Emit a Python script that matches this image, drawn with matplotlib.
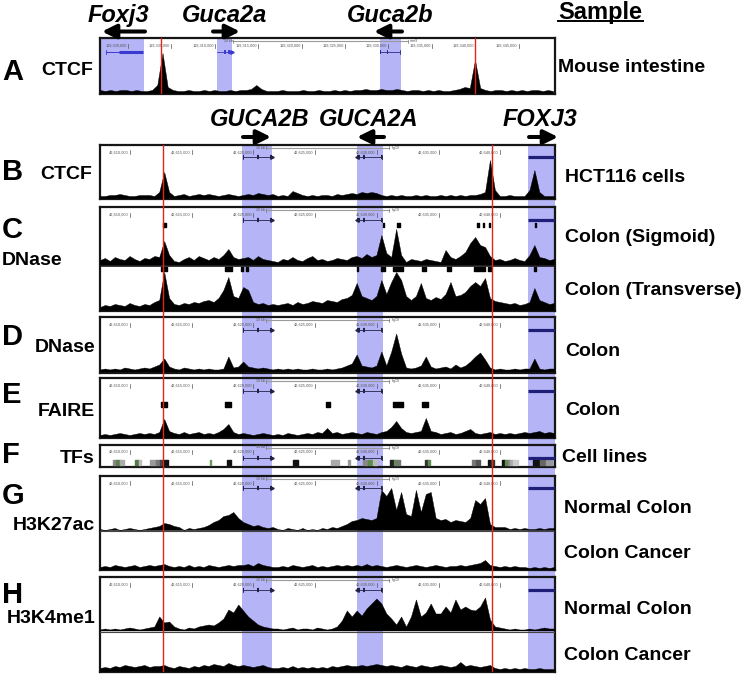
import numpy as np
import matplotlib
matplotlib.use('Agg')
import matplotlib.pyplot as plt
from matplotlib import transforms

plt.rcParams['font.family'] = ['Liberation Sans', 'DejaVu Sans']

W, H = 747, 674

# ---------------- genomic windows ----------------
HUMAN_START, HUMAN_END, HUMAN_BIN = 42607570, 42644440, 400
MOUSE_START, MOUSE_END, MOUSE_BIN = 119296774, 119349190, 600

human_ticks = [42610000, 42615000, 42620000, 42625000, 42630000, 42635000, 42640000]
mouse_ticks = [119300000, 119305000, 119310000, 119315000, 119320000,
               119325000, 119330000, 119335000, 119340000, 119345000]

human_genes = ['GUCA2B', 'GUCA2A', 'FOXJ3']
human_hl_start = [42619053, 42628421, 42642230]
human_hl_end = [42621484, 42630480, 42644440]
human_arrow_from = [42619159, 42630585, 42642336]
human_arrow_to = [42621428, 42628397, 42644686]
human_red = [42612676, 42639362]

mouse_genes = ['Foxj3', 'Guca2a', 'Guca2b']
mouse_hl_start = [119296774, 119310218, 119329030]
mouse_hl_end = [119301877, 119312015, 119331449]
mouse_arrow_from = [119301958, 119309792, 119331564]
mouse_arrow_to = [119297004, 119312902, 119328339]
mouse_red = [119303801, 119339980]

# ---------------- signal tracks (relative signal per bin) ----------------
mouse_ctcf = [3, 2, 3, 2, 3, 3, 2, 3, 2, 2,
              3, 8, 40, 6, 3,
              2, 2, 3, 2, 2, 3, 2, 3, 2, 2, 3, 2, 3, 3, 4,
              8, 4, 2,
              2, 2, 3, 2, 2, 2, 3, 2, 2, 3, 2, 2, 3, 2, 3, 2, 3,
              3, 4, 3, 3, 4, 3, 3, 4, 3, 2, 3, 3, 2, 3, 2, 3, 2, 2, 3, 4, 6,
              5, 33, 5,
              3, 2, 3, 3, 2, 3, 2, 3, 2, 3, 3, 2, 3, 2]

hct116_ctcf = [2, 2, 3, 3, 4, 3, 2, 2, 3, 3,
               3, 2, 6, 26, 6, 2,
               3, 4, 2, 3, 4, 3, 4, 3, 2, 3, 4, 3, 2,
               3, 4, 3, 5, 4, 3, 4,
               2, 3, 2, 7,
               5, 3, 2, 3, 2, 3, 3, 2, 4, 3, 4, 5,
               4, 6, 5, 6, 5, 3,
               2, 3, 2, 3, 2, 2, 3, 2, 3, 2, 2, 3, 2, 3, 2, 3, 2, 3, 3, 4, 6,
               38, 8, 2, 2, 3, 2, 2, 2,
               8, 28, 6, 2, 2, 2]

dnase_sigmoid = [5, 7, 4, 8, 6, 5, 9, 6, 4, 7,
                 6, 9, 8, 24, 10, 4,
                 3, 6, 8, 5, 9, 7, 5, 8, 6, 10,
                 16, 8, 6,
                 7, 8, 5, 9, 6, 5, 4,
                 3, 6, 5, 8, 5, 4, 7, 9, 5, 6, 4, 5, 7, 6, 5, 8,
                 9, 7, 11, 8, 10, 30,
                 12, 8, 36, 10,
                 3, 6, 5, 4, 6, 5, 4, 3,
                 15, 8, 6, 9, 13, 22, 28, 20, 18, 9,
                 5, 6, 4, 5, 7, 5, 4,
                 10, 20, 8, 7, 5, 6]

dnase_transverse = [3, 5, 4, 6, 5, 4, 7, 5, 4, 6,
                    5, 8, 10, 38, 12, 6,
                    5, 7, 6, 8, 7, 9, 10, 8, 12,
                    20, 33, 14, 12, 23, 20, 8,
                    6, 7, 5, 6,
                    5, 6, 7, 5, 8, 6, 7, 9, 8, 7, 10, 9, 8, 11, 12,
                    15, 27, 14, 12, 10, 14, 30, 16, 28, 38, 30, 14,
                    10, 14, 27, 12, 10, 13, 11, 16, 28, 14, 15, 18, 24, 28, 24, 32, 12,
                    9, 8, 7, 6, 7, 5, 6,
                    8, 22, 10, 8, 6, 7]

dnase_colon = [2, 3, 2, 3, 2, 4, 3, 2, 3, 4,
               3, 5, 7, 13, 5,
               3, 2, 4, 3, 2, 3, 2, 3, 2, 2, 3,
               15, 4, 5, 10, 5,
               4, 3, 4, 3, 2,
               3, 2, 3, 2, 3, 2, 2, 3, 2, 2, 3, 2, 3, 4, 6,
               8, 17, 6, 5, 4, 6, 20, 6, 20, 38, 18, 4,
               3, 4, 6, 15, 5, 3, 4, 5, 3, 7, 4, 6, 10, 15, 19, 12, 4,
               2, 3, 2, 2, 3, 2, 3, 3,
               13, 3, 2, 3, 3]

faire_colon = [2, 3, 2, 3, 4, 3, 2, 3, 4, 3,
               4, 3, 5, 18, 6,
               4, 3, 5, 3, 4, 5, 3, 4, 3, 5, 8,
               13, 5,
               3, 4, 3, 2, 3, 4, 3, 2,
               3, 2, 4, 3, 2, 3, 4, 3, 5, 4, 9, 4, 5, 3, 4, 5,
               4, 3, 5, 4, 3, 5,
               6, 10, 16, 9, 5, 4, 5, 6, 19, 6,
               5, 3, 4, 5, 3, 4, 6, 8, 4, 3, 4, 5,
               3, 4, 3, 4, 3, 4, 5, 4, 5, 6, 4, 5, 4]

h3k27ac_normal = [1, 0, 1, 2, 0, 1, 2, 1, 0, 1, 2, 3, 4,
                  7, 6, 4, 3, 0, 2, 1, 2, 3, 5, 8, 10, 14, 15, 18, 12, 8, 6, 4, 5, 3, 2, 3,
                  1, 0, 2, 1, 0, 2, 0, 1, 0, 2, 1, 3, 2, 4,
                  6, 9, 10, 12, 11, 10, 12, 40, 34, 42, 20, 38, 16, 14, 40, 18, 36, 38, 12, 10,
                  11, 8, 10, 9, 8, 12, 30, 26, 32, 6,
                  3, 3, 3, 1, 2, 1, 2, 1, 1, 2, 1, 2, 2]

h3k27ac_cancer = [2, 3, 2, 4, 3, 2, 3, 4, 2, 3, 4, 3, 4,
                  5, 3, 2, 3, 2, 4, 2, 3, 2, 4, 3, 2, 3, 4, 3, 4,
                  4, 5, 3, 6, 4, 3, 2,
                  2, 3, 2, 4, 3, 2, 3, 4, 2, 3, 2, 3, 4, 3, 4, 3,
                  4, 3, 5, 3, 4, 3, 2, 3, 4, 3, 2, 3, 4, 3, 2, 3, 4, 3, 2, 3,
                  3, 4, 3, 4, 5, 6, 9, 4,
                  3, 2, 3, 2, 3, 2, 2, 1, 2, 1, 2, 1, 2]

h3k4me1_normal = [1, 2, 1, 2, 1, 2, 3, 2, 1, 2, 3, 4,
                  14, 8, 9, 4, 2, 1, 3, 2, 4, 5, 6, 5, 8, 12, 21, 18, 26, 20, 14, 10, 6, 4, 3, 2,
                  2, 1, 2, 3, 1, 2, 2, 1, 3, 2, 1, 2,
                  4, 10, 20, 14, 20, 15, 22, 27, 32, 27, 17, 12, 6, 14, 4, 14, 31, 14, 18, 27,
                  17, 17, 24, 18, 31, 21, 24, 21, 20, 24, 33, 11,
                  4, 3, 2, 1, 2, 1, 1, 2, 1, 2, 3, 2, 2]

h3k4me1_cancer = [3, 4, 3, 5, 4, 6, 5, 4, 5, 6, 4, 5, 5,
                  6, 4, 3, 5, 4, 3, 5, 4, 6, 5, 7, 6, 5, 8, 6, 5,
                  6, 5, 4, 5, 6, 4, 3,
                  3, 4, 3, 5, 3, 4, 3, 4, 3, 4, 3, 5, 4, 5, 6, 5,
                  5, 6, 5, 6, 7, 6, 5, 6, 5, 4, 6, 5, 4, 6, 5, 4, 5, 6, 5, 4,
                  5, 9, 5, 6, 5, 4, 5, 6,
                  3, 2, 3, 2, 3, 2, 3, 2, 2, 3, 2, 2, 2]

# ---------------- peak calls / TF clusters ----------------
sigmoid_calls = [(42612635, 42612919), (42630500, 42630580), (42631639, 42631882),
                 (42638081, 42638284), (42638608, 42638689), (42639094, 42639176),
                 (42642822, 42642903)]
transverse_calls = [(42612489, 42613024), (42617700, 42618243), (42619030, 42619118),
                    (42619440, 42619523), (42628373, 42628437), (42630342, 42630666),
                    (42631291, 42632150), (42633690, 42633990), (42635715, 42635991),
                    (42637879, 42638770), (42639038, 42639232), (42642741, 42642903)]
faire_calls = [(42612513, 42612975), (42617676, 42618186), (42625885, 42626209),
               (42631339, 42632101), (42633641, 42634176)]

tf_start = [42608624, 42608867, 42609191, 42610406, 42610731, 42611622, 42612108, 42612432,
            42612676, 42616484, 42617862, 42623211, 42626290, 42627668, 42628884, 42629289,
            42629694, 42631072, 42631396, 42631639, 42633908, 42634151, 42637717, 42638041,
            42639013, 42639256, 42640148, 42640391, 42640634, 42640796, 42641040, 42642661,
            42643228, 42643714]
tf_end = [42608867, 42609191, 42609515, 42610731, 42610893, 42612108, 42612432, 42612676,
          42613081, 42616565, 42618186, 42623616, 42626939, 42627830, 42629208, 42629613,
          42630019, 42631396, 42631639, 42631882, 42634151, 42634313, 42638041, 42638365,
          42639256, 42639499, 42640391, 42640634, 42640796, 42641040, 42641445, 42643147,
          42643633, 42644200]
tf_shade = ['#8a8a8a', '#5f7f50', '#ababab', '#557a45', '#bdbdbd', '#9a9a9a', '#777777', '#444444',
            '#111111', '#6a9a5a', '#111111', '#111111', '#aaaaaa', '#999999', '#888888', '#5f8a50',
            '#bbbbbb', '#222222', '#5f8a50', '#777777', '#333333', '#5f8a50', '#777777', '#555555',
            '#111111', '#333333', '#111111', '#5f8a50', '#888888', '#aaaaaa', '#cccccc', '#111111',
            '#666666', '#999999']

# gene models (exon blocks)
guca2b_span = (42619159, 42621509)
guca2b_exons = [(42619130, 42619200), (42620300, 42620430), (42621330, 42621509)]
guca2a_span = (42628397, 42630423)
guca2a_exons = [(42628397, 42628600), (42628884, 42629010), (42630380, 42630440)]
foxj3_span = (42642230, 42644440)

m_foxj3_thin = (119297465, 119298963)
m_foxj3_thick = (119298963, 119301728)
m_guca2a_span = (119310252, 119312015)
m_guca2a_exons = [(119311050, 119311290), (119311520, 119311750)]
m_guca2b_span = (119329030, 119331334)
m_guca2b_exons = [(119329030, 119329150), (119329800, 119330000)]

# ---------------- colours ----------------
HL = '#b4b4f6'
RED = '#e3241c'
NAVY = '#1f1f7a'
FRAME = '#161616'

fig = plt.figure(figsize=(W / 100, H / 100), dpi=100)


def add_px(x0, y0, x1, y1, z=1):
    ax = fig.add_axes([x0 / W, 1 - y1 / H, (x1 - x0) / W, (y1 - y0) / H])
    ax.set_zorder(z)
    return ax


def box(top, bottom, start, end, z=1):
    ax = add_px(100, top, 555, bottom, z)
    ax.set_xlim(start, end)
    ax.set_ylim(bottom, top)
    ax.set_facecolor('none')
    ax.set_xticks([])
    ax.set_yticks([])
    for s in ax.spines.values():
        s.set_linewidth(1.6)
        s.set_color(FRAME)
    return ax


def signal(ax, vals, base, start, step):
    x = start + np.arange(len(vals)) * step
    v = np.asarray(vals, dtype=float)
    ax.fill_between(x, base, base - v, color='black', lw=0.3, edgecolor='black', zorder=3)


def calls(ax, items, y0, h):
    ax.broken_barh([(s, max(e - s, 60)) for s, e in items], (y0, h), color='black', zorder=3)


def header(ax, top, ticks, scale_from, scale_to, scale_txt, asm, fs=2.8):
    for t in ticks:
        ax.text(t - 120, top + 7.5, f'{t:,}', ha='right', va='center', fontsize=fs, color='#555555')
        ax.plot([t, t], [top + 5.5, top + 9.5], color='#555555', lw=0.5)
    ax.plot([scale_from, scale_to], [top + 3, top + 3], color='#9a9a9a', lw=0.8)
    ax.plot([scale_from, scale_from], [top + 1.5, top + 4.5], color='#777777', lw=0.5)
    ax.plot([scale_to, scale_to], [top + 1.5, top + 4.5], color='#777777', lw=0.5)
    ax.text(scale_from - 100, top + 3, scale_txt, ha='right', va='center', fontsize=2.6, color='#555555')
    ax.text(scale_to + 200, top + 3, asm, ha='left', va='center', fontsize=2.6, color='#555555')


def human_genes_draw(ax, top):
    y = top + 12.5
    ax.plot(guca2b_span, [y, y], color='#222244', lw=0.6, zorder=4)
    for s, e in guca2b_exons:
        ax.plot([s, e], [y, y], color='#222244', lw=3, solid_capstyle='butt', zorder=4)
    ax.plot([guca2b_span[0]] * 2, [y - 2, y + 2], color='#222244', lw=0.6, zorder=4)
    ax.plot([guca2b_span[1]], [y], marker='>', ms=2.5, color='#222244', zorder=4)
    ax.plot(guca2a_span, [y, y], color='#222244', lw=0.6, zorder=4)
    for s, e in guca2a_exons:
        ax.plot([s, e], [y, y], color='#222244', lw=3, solid_capstyle='butt', zorder=4)
    ax.plot([guca2a_span[0]], [y], marker='<', ms=2.5, color='#222244', zorder=4)
    ax.plot([guca2a_span[1]] * 2, [y - 2, y + 2], color='#222244', lw=0.6, zorder=4)
    ax.plot(foxj3_span, [y, y], color=NAVY, lw=2.3, solid_capstyle='butt', zorder=4)


# ---------------- overlay in pixel coordinates ----------------
ov = fig.add_axes([0, 0, 1, 1])
ov.set_xlim(0, W)
ov.set_ylim(H, 0)
ov.axis('off')
ov.set_zorder(5)

# ---------------- panel A (mouse) ----------------
axA = box(38, 94, MOUSE_START, MOUSE_END)
for s, e in zip(mouse_hl_start, mouse_hl_end):
    axA.axvspan(s, e, color=HL, lw=0, zorder=0)
signal(axA, mouse_ctcf, 93, MOUSE_START, MOUSE_BIN)
header(axA, 38, mouse_ticks, 119312130, 119332290, '20 kb', 'mm9')
ym = 38 + 14
axA.plot(m_foxj3_thin, [ym, ym], color='#3a3ad0', lw=0.7, zorder=4)
axA.plot(m_foxj3_thick, [ym, ym], color='#3a3ad0', lw=2.2, solid_capstyle='butt', zorder=4)
axA.plot([m_foxj3_thin[0]] * 2, [ym - 2, ym + 2], color='#3a3ad0', lw=0.6, zorder=4)
axA.plot(m_guca2a_span, [ym, ym], color='#3a3ad0', lw=0.6, zorder=4)
for s, e in m_guca2a_exons:
    axA.plot([s, e], [ym, ym], color='#3a3ad0', lw=2.8, solid_capstyle='butt', zorder=4)
axA.plot([m_guca2a_span[1]], [ym], marker='>', ms=2.5, color='#3a3ad0', zorder=4)
axA.plot(m_guca2b_span, [ym, ym], color='#2a2a90', lw=0.6, zorder=4)
for s, e in m_guca2b_exons:
    axA.plot([s, e], [ym, ym], color='#2a2a90', lw=2.8, solid_capstyle='butt', zorder=4)
axA.plot([m_guca2b_span[1]] * 2, [ym - 2, ym + 2], color='#2a2a90', lw=0.6, zorder=4)
for r in mouse_red:
    axA.axvline(r, color=RED, lw=1.0, zorder=5)

# ---------------- human background (highlights) and red lines ----------------
bg = add_px(100, 145, 555, 672, 0)
bg.set_xlim(HUMAN_START, HUMAN_END)
bg.set_ylim(0, 1)
bg.axis('off')
for s, e in zip(human_hl_start, human_hl_end):
    bg.axvspan(s, e, color=HL, lw=0)

red_ax = add_px(100, 145, 555, 672, 3)
red_ax.set_xlim(HUMAN_START, HUMAN_END)
red_ax.set_ylim(0, 1)
red_ax.axis('off')
for r in human_red:
    red_ax.axvline(r, color=RED, lw=1.0)


def human_box(top, bottom):
    ax = box(top, bottom, HUMAN_START, HUMAN_END)
    header(ax, top, human_ticks, 42621000, 42631000, '10 kb', 'hg19')
    human_genes_draw(ax, top)
    return ax


# B
axB = human_box(145, 199)
signal(axB, hct116_ctcf, 198, HUMAN_START, HUMAN_BIN)
# C
axC = human_box(207, 311)
signal(axC, dnase_sigmoid, 265, HUMAN_START, HUMAN_BIN)
signal(axC, dnase_transverse, 310, HUMAN_START, HUMAN_BIN)
axC.axhline(266, color=FRAME, lw=1.2, zorder=4)
calls(axC, sigmoid_calls, 223, 4)
calls(axC, transverse_calls, 266.5, 4)
# D
axD = human_box(317, 373)
signal(axD, dnase_colon, 371.5, HUMAN_START, HUMAN_BIN)
# E
axE = human_box(378, 438)
signal(axE, faire_colon, 437, HUMAN_START, HUMAN_BIN)
calls(axE, faire_calls, 402, 4.5)
# F
axF = box(445, 467, HUMAN_START, HUMAN_END)
header(axF, 444.5, human_ticks, 42621000, 42631000, '10 kb', 'hg19')
human_genes_draw(axF, 445)
for s, e, c in zip(tf_start, tf_end, tf_shade):
    axF.broken_barh([(s, e - s)], (459.5, 5), color=c, zorder=3)
# G
axG = human_box(476, 570)
signal(axG, h3k27ac_normal, 530, HUMAN_START, HUMAN_BIN)
signal(axG, h3k27ac_cancer, 569, HUMAN_START, HUMAN_BIN)
axG.axhline(531, color='#444444', lw=0.8, zorder=4)
# H
axH = human_box(577, 672)
signal(axH, h3k4me1_normal, 630.5, HUMAN_START, HUMAN_BIN)
signal(axH, h3k4me1_cancer, 671, HUMAN_START, HUMAN_BIN)
axH.axhline(631.5, color='#444444', lw=0.8, zorder=4)

# ---------------- gene arrows ----------------
arrow_style = dict(arrowstyle='-|>,head_length=0.85,head_width=0.42', lw=2.9, color='black',
                   mutation_scale=10, shrinkA=0, shrinkB=0)
tr_m = transforms.blended_transform_factory(axA.transData, ov.transData)
for a, b in zip(mouse_arrow_from, mouse_arrow_to):
    ov.annotate('', xy=(b, 31.5), xytext=(a, 31.5), xycoords=tr_m, textcoords=tr_m,
                arrowprops=arrow_style, annotation_clip=False)
tr_h = transforms.blended_transform_factory(bg.transData, ov.transData)
for a, b in zip(human_arrow_from, human_arrow_to):
    ov.annotate('', xy=(b, 137), xytext=(a, 137), xycoords=tr_h, textcoords=tr_h,
                arrowprops=arrow_style, annotation_clip=False)

# ---------------- text ----------------
gi = dict(fontsize=17, fontweight='bold', fontstyle='italic', ha='center', va='baseline')
for name, xc in zip(mouse_genes, [118, 224, 390]):
    ov.text(xc, 21.7, name, **gi)
for name, xc in zip(human_genes, [260, 369, 539.5]):
    ov.text(xc, 126, name, **gi)

ov.text(600, 18.5, 'Sample', fontsize=17, fontweight='bold', ha='center', va='baseline')
ov.plot([558, 643], [21.3, 21.3], color='black', lw=1.4)

L = dict(fontsize=21, fontweight='bold', ha='left', va='baseline')
for letter, yb in zip('ABCDEFGH', [80, 180, 238, 345, 403, 463, 504, 603]):
    ov.text(2, yb, letter, **L)

lab = dict(fontsize=14, fontweight='bold', va='baseline')
ov.text(93, 75, 'CTCF', ha='right', **lab)
ov.text(92, 179, 'CTCF', ha='right', **lab)
ov.text(2, 265, 'DNase', ha='left', **lab)
ov.text(95, 351.5, 'DNase', ha='right', **lab)
ov.text(95, 416, 'FAIRE', ha='right', **lab)
ov.text(95, 463, 'TFs', ha='right', **lab)
ov.text(95, 530, 'H3K27ac', ha='right', **lab)
ov.text(95, 623, 'H3K4me1', ha='right', **lab)

ov.text(558, 71.5, 'Mouse intestine', ha='left', **lab)
ov.text(565, 182.5, 'HCT116 cells', ha='left', **lab)
ov.text(565, 241.7, 'Colon (Sigmoid)', ha='left', **lab)
ov.text(565, 295, 'Colon (Transverse)', ha='left', **lab)
ov.text(565, 355.7, 'Colon', ha='left', **lab)
ov.text(565, 415, 'Colon', ha='left', **lab)
ov.text(562, 461.7, 'Cell lines', ha='left', **lab)
ov.text(564, 513, 'Normal Colon', ha='left', **lab)
ov.text(564, 558, 'Colon Cancer', ha='left', **lab)
ov.text(564, 614, 'Normal Colon', ha='left', **lab)
ov.text(564, 660, 'Colon Cancer', ha='left', **lab)

fig.savefig('out.png', dpi=100)
